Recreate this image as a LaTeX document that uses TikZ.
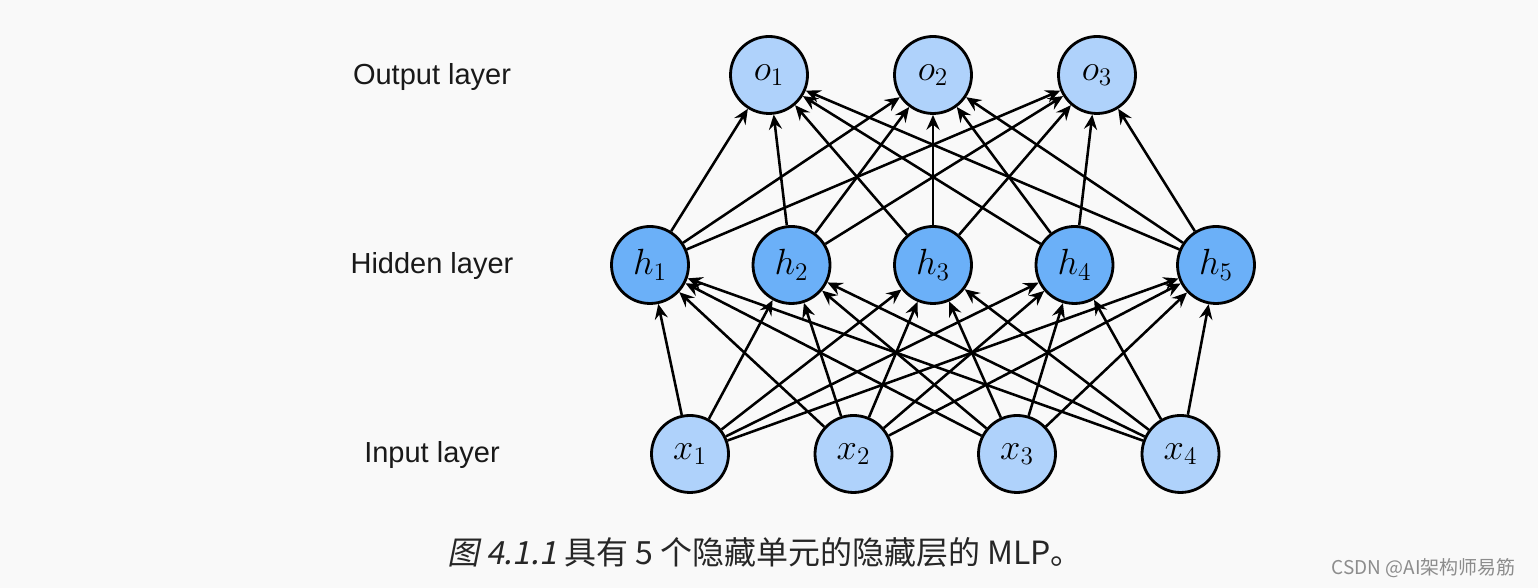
\documentclass[tikz,border=0pt]{standalone}
\usepackage{fontspec}
\setmainfont{Liberation Sans}
\newfontfamily\cjk{Noto Sans CJK SC}
\newfontfamily\cjkit[FakeSlant=0.2]{Noto Sans CJK SC}
\usetikzlibrary{arrows.meta}
\definecolor{bgcol}{RGB}{249,249,249}
\definecolor{lightnode}{RGB}{175,210,251}
\definecolor{darknode}{RGB}{107,176,248}
\begin{document}
\begin{tikzpicture}[
	unit/.style={draw, circle, line width=1.6pt, minimum size=1.54cm,
		inner sep=0pt, font=\fontsize{20.5}{22}\selectfont},
	inp/.style={unit, fill=lightnode},
	hid/.style={unit, fill=darknode},
	outp/.style={unit, fill=lightnode},
	conn/.style={line width=1.45pt,
		-{Stealth[length=8.5pt, width=7.5pt, inset=3pt]}},
	layerlbl/.style={font=\fontsize{16.5}{18}\selectfont, text=black!90},
	]
	\useasboundingbox (0,0) rectangle (30.76,11.76);
	\fill[bgcol] (0,0) rectangle (30.76,11.76);

	\node[layerlbl] (t0) at (8.64,10.22) {Output layer};
	\node[layerlbl] (t1) at (8.64,6.43) {Hidden layer};
	\node[layerlbl] (t2) at (8.64,2.65) {Input layer};

	\node[outp] (o1) at (15.38,10.26) {$o_1$};
	\node[outp] (o2) at (18.66,10.26) {$o_2$};
	\node[outp] (o3) at (21.94,10.26) {$o_3$};

	\node[hid] (h1) at (13.00,6.46) {$h_1$};
	\node[hid] (h2) at (15.83,6.46) {$h_2$};
	\node[hid] (h3) at (18.66,6.46) {$h_3$};
	\node[hid] (h4) at (21.49,6.46) {$h_4$};
	\node[hid] (h5) at (24.32,6.46) {$h_5$};

	\node[inp] (x1) at (13.80,2.68) {$x_1$};
	\node[inp] (x2) at (17.07,2.68) {$x_2$};
	\node[inp] (x3) at (20.34,2.68) {$x_3$};
	\node[inp] (x4) at (23.61,2.68) {$x_4$};

	\draw[conn] (x1) to (h1);
	\draw[conn] (x1) to (h2);
	\draw[conn] (x1) to (h3);
	\draw[conn] (x1) to (h4);
	\draw[conn] (x1) to (h5);
	\draw[conn] (x2) to (h1);
	\draw[conn] (x2) to (h2);
	\draw[conn] (x2) to (h3);
	\draw[conn] (x2) to (h4);
	\draw[conn] (x2) to (h5);
	\draw[conn] (x3) to (h1);
	\draw[conn] (x3) to (h2);
	\draw[conn] (x3) to (h3);
	\draw[conn] (x3) to (h4);
	\draw[conn] (x3) to (h5);
	\draw[conn] (x4) to (h1);
	\draw[conn] (x4) to (h2);
	\draw[conn] (x4) to (h3);
	\draw[conn] (x4) to (h4);
	\draw[conn] (x4) to (h5);

	\draw[conn] (h1) to (o1);
	\draw[conn] (h1) to (o2);
	\draw[conn] (h1) to (o3);
	\draw[conn] (h2) to (o1);
	\draw[conn] (h2) to (o2);
	\draw[conn] (h2) to (o3);
	\draw[conn] (h3) to (o1);
	\draw[conn] (h3) to (o2);
	\draw[conn] (h3) to (o3);
	\draw[conn] (h4) to (o1);
	\draw[conn] (h4) to (o2);
	\draw[conn] (h4) to (o3);
	\draw[conn] (h5) to (o1);
	\draw[conn] (h5) to (o2);
	\draw[conn] (h5) to (o3);

	\node[font=\fontsize{18.2}{20}\selectfont, text=black!85] (cap) at (15.30,0.72)
		{{\cjkit 图 4.1.1}\cjk{} 具有 5 个隐藏单元的隐藏层的 MLP。};
	\node[anchor=east, font=\fontsize{10.8}{12}\selectfont, text=black!45] (wm) at (30.44,0.39)
		{\cjk CSDN @AI架构师易筋};
\end{tikzpicture}
\end{document}
